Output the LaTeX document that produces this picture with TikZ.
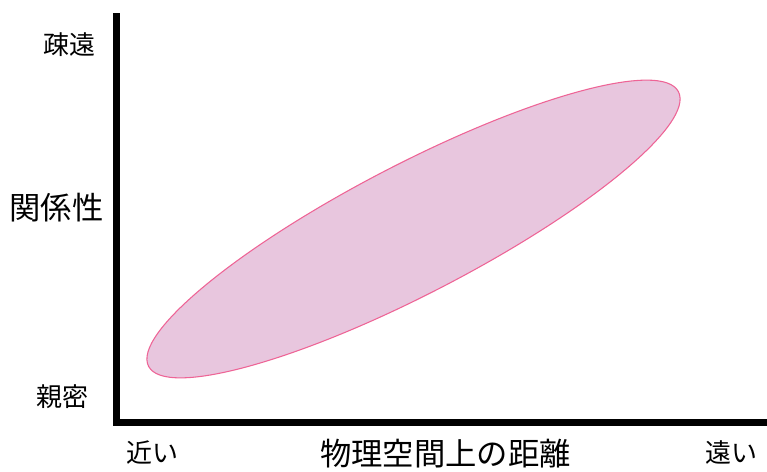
\documentclass[tikz,border=0pt]{standalone}
\usepackage{fontspec}
\newfontfamily\jp{Noto Sans CJK JP}
\definecolor{ellfill}{RGB}{232,198,222}
\definecolor{ellline}{RGB}{238,100,150}
\begin{document}
\begin{tikzpicture}[x=0.75pt,y=-0.75pt,
  axis/.style={line width=5.25pt,line join=miter,black},
  blob/.style={fill=ellfill,draw=ellline,line width=0.8pt},
  lblS/.style={font=\jp\fontsize{19.5pt}{20pt}\selectfont,inner sep=0pt},
  lblL/.style={font=\jp\fontsize{23.5pt}{24pt}\selectfont,inner sep=0pt}]
\useasboundingbox (0,0) rectangle (767,471);
\fill[white] (0,0) rectangle (767,471);
\coordinate (top) at (116.5,13);
\coordinate (corner) at (116.5,422);
\coordinate (right) at (767,422);
\draw[axis] (top) -- (corner) -- (right);
\draw[blob,shift={(413.5,229)},rotate=27.4] (0,0) ellipse [x radius=223.8pt,y radius=48.5pt];
\node[lblS] (soen) at (69,45) {疎遠};
\node[lblL] (kankei) at (56.5,208) {関係性};
\node[lblS] (shinmitsu) at (62.5,396.5) {親密};
\node[lblS] (chikai) at (152.5,452.5) {近い};
\node[lblL] (kyori) at (445.5,453.5) {物理空間上の距離};
\node[lblS] (tooi) at (731,453) {遠い};
\end{tikzpicture}
\end{document}
